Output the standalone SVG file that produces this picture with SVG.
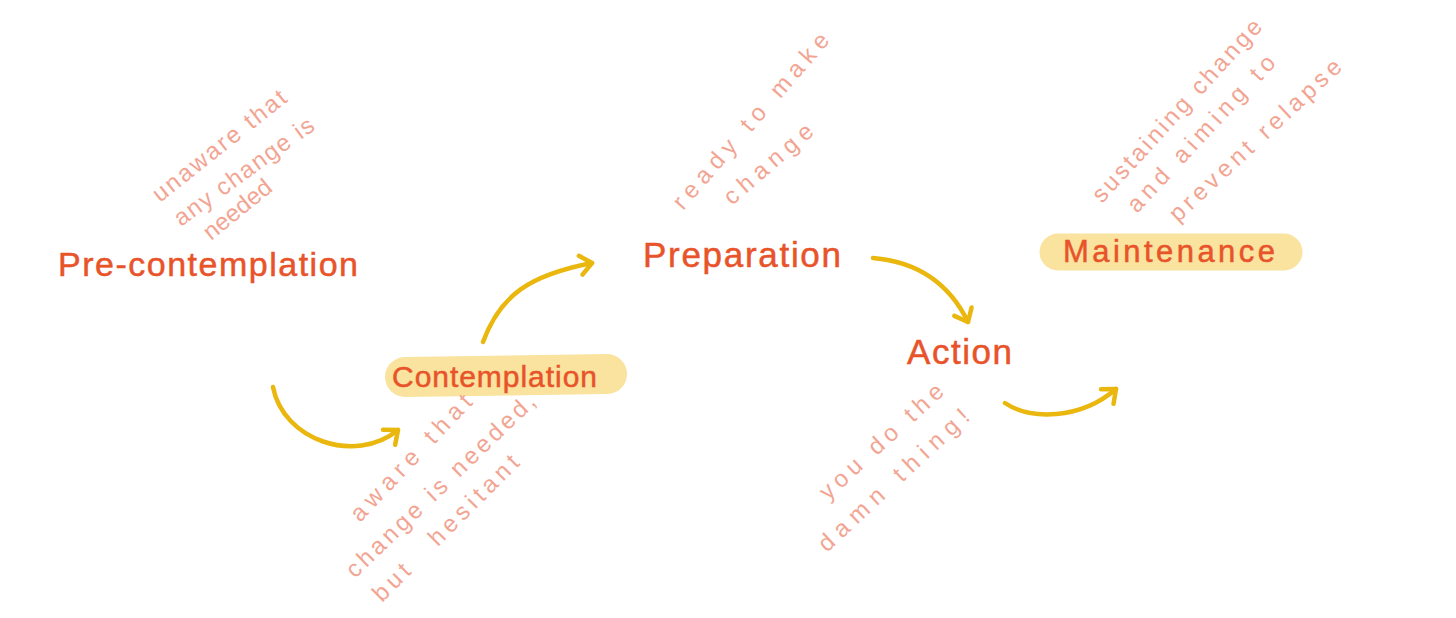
<svg xmlns="http://www.w3.org/2000/svg" width="1456" height="618" viewBox="0 0 1456 618">
  <style>
    .label { font-family: "Liberation Sans", Arial, sans-serif; fill: #E8532A; stroke: #E8532A; stroke-width: 0.5; }
    .note { font-family: "Liberation Sans", Arial, sans-serif; font-size: 24px; fill: #F2A593; }
    .hl { stroke: #F9E39E; stroke-linecap: round; fill: none; }
    .conn { fill: none; stroke: #EAB70E; stroke-width: 4.5; stroke-linecap: round; }
    .head { fill: none; stroke: #EAB70E; stroke-width: 4.5; stroke-linecap: round; stroke-linejoin: round; }
  </style>
  <defs>
    <marker id="chev" viewBox="-16 -14 20 28" refX="0" refY="0" markerWidth="20" markerHeight="28" markerUnits="userSpaceOnUse" orient="auto">
      <path class="head" d="M-11.5,-9.6 L0,0 L-11.5,9.6"/>
    </marker>
  </defs>
  <rect width="1456" height="618" fill="#FFFFFF"/>

  <g id="precontemplation">
    <text class="label" x="58" y="276" font-size="34" textLength="300" lengthAdjust="spacing">Pre-contemplation</text>
    <text class="note" transform="translate(160,203) rotate(-38.5)" textLength="164" lengthAdjust="spacing">unaware that</text>
    <text class="note" transform="translate(181,227) rotate(-36)" textLength="167" lengthAdjust="spacing">any change is</text>
    <text class="note" transform="translate(211,241) rotate(-39)" textLength="81" lengthAdjust="spacing">needed</text>
  </g>

  <g id="contemplation">
    <line class="hl" x1="405" y1="377" x2="607" y2="374" stroke-width="40"/>
    <text class="label" x="392" y="387" font-size="30" textLength="205" lengthAdjust="spacing">Contemplation</text>
    <text class="note" transform="translate(360,523) rotate(-46.5)" textLength="165" lengthAdjust="spacing">aware that</text>
    <text class="note" transform="translate(355,579) rotate(-44)" textLength="253" lengthAdjust="spacing">change is needed,</text>
    <text class="note" transform="translate(382,603) rotate(-45)" textLength="196" lengthAdjust="spacing" word-spacing="20">but hesitant</text>
  </g>

  <g id="preparation">
    <text class="label" x="643" y="267" font-size="35" textLength="198" lengthAdjust="spacing">Preparation</text>
    <text class="note" transform="translate(683,211) rotate(-49)" textLength="225" lengthAdjust="spacing">ready to make</text>
    <text class="note" transform="translate(732,206) rotate(-41)" textLength="110" lengthAdjust="spacing">change</text>
  </g>

  <g id="action">
    <text class="label" x="907" y="364" font-size="35" textLength="105" lengthAdjust="spacing">Action</text>
    <text class="note" transform="translate(828,501) rotate(-42.5)" textLength="159" lengthAdjust="spacing">you do the</text>
    <text class="note" transform="translate(827,553) rotate(-43)" textLength="197" lengthAdjust="spacing">damn thing!</text>
  </g>

  <g id="maintenance">
    <line class="hl" x1="1058" y1="252" x2="1284" y2="252" stroke-width="37"/>
    <text class="label" x="1063" y="262" font-size="31" textLength="212" lengthAdjust="spacing">Maintenance</text>
    <text class="note" transform="translate(1102,204) rotate(-47.5)" textLength="239" lengthAdjust="spacing">sustaining change</text>
    <text class="note" transform="translate(1137,214) rotate(-47)" textLength="205" lengthAdjust="spacing">and aiming to</text>
    <text class="note" transform="translate(1178,223) rotate(-43)" textLength="226" lengthAdjust="spacing">prevent relapse</text>
  </g>

  <g id="connectors">
    <path class="conn" d="M273,387 C283,440 355,465 398,430" marker-end="url(#chev)"/>
    <path class="conn" d="M483,342 C500,295 530,275 592,263" marker-end="url(#chev)"/>
    <path class="conn" d="M873,258 C920,262 950,285 968,322" marker-end="url(#chev)"/>
    <path class="conn" d="M1005,403 C1030,420 1080,420 1116,389" marker-end="url(#chev)"/>
  </g>
</svg>
